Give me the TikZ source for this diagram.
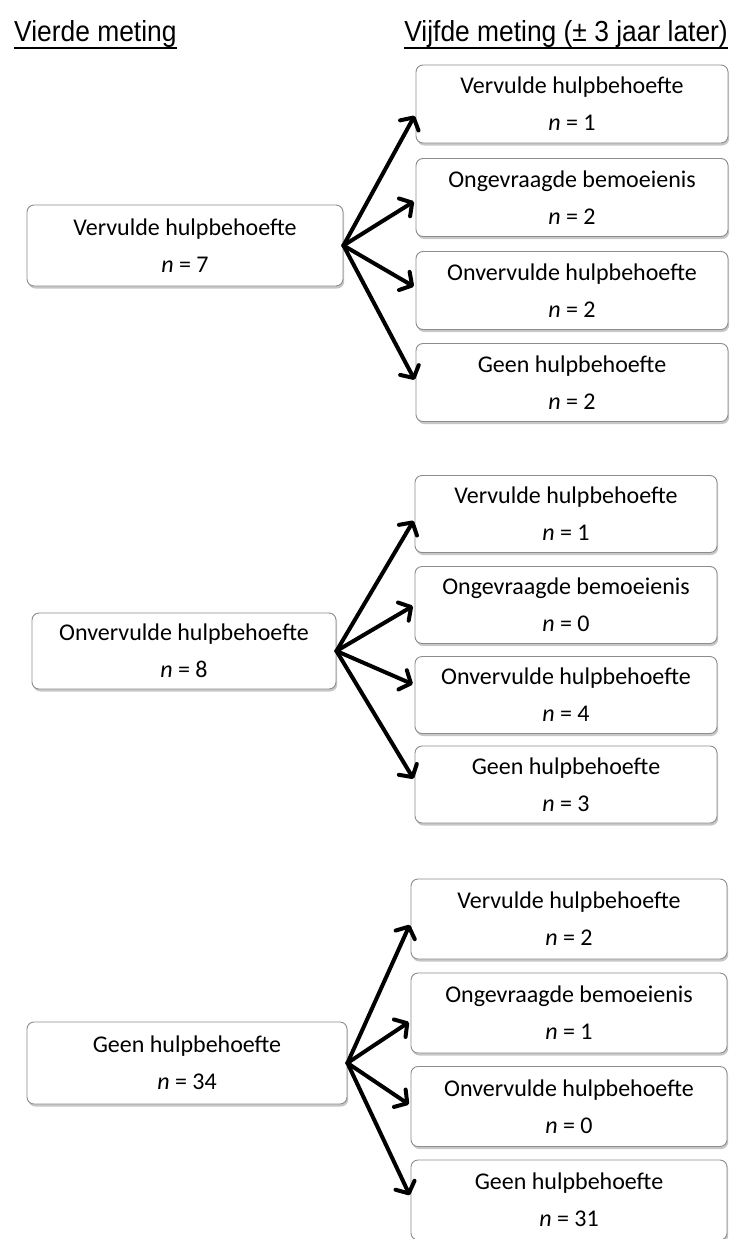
\documentclass[tikz,border=0pt]{standalone}
\usepackage{fontspec}
\setmainfont{Carlito}
\newfontfamily\hdrfont[FakeStretch=0.91]{Liberation Sans}
\usetikzlibrary{arrows.meta,shadows}
\begin{document}
\begin{tikzpicture}[x=1pt,y=-1pt,
  box/.style={draw=black!45, line width=0.9pt, rounded corners=7pt, fill=white,
    align=center, inner sep=0pt, font=\fontsize{24}{37}\selectfont,
    drop shadow={shadow xshift=1.2pt, shadow yshift=-2.5pt, fill=black, opacity=0.22}},
  arr/.style={line width=4pt, line cap=round, line join=round,
    -{Straight Barb[length=9pt,width=21pt,round]}, shorten >=2pt},
  hdr/.style={font=\hdrfont\fontsize{29}{32}\selectfont, inner sep=0pt},
  uline/.style={line width=1.4pt}]
\useasboundingbox (0,0) rectangle (733,1239);

% headers
\node[hdr, anchor=base west] (h1) at (14,42) {Vierde meting};
\node[hdr, anchor=base east] (h2) at (728,42) {Vijfde meting (± 3 jaar later)};
\draw[uline] ([yshift=-6pt]h1.base west) -- ([yshift=-6pt]h1.base east);
\draw[uline] ([yshift=-6pt]h2.base west) -- ([yshift=-6pt]h2.base east);

% group 1
\node[box, minimum width=312pt, minimum height=78pt] (a1) at (572,104) {Vervulde hulpbehoefte\\{\itshape n} = 1};
\node[box, minimum width=312pt, minimum height=78pt] (a2) at (572,197.5) {Ongevraagde bemoeienis\\{\itshape n} = 2};
\node[box, minimum width=312pt, minimum height=78pt] (a3) at (572,290.5) {Onvervulde hulpbehoefte\\{\itshape n} = 2};
\node[box, minimum width=312pt, minimum height=78pt] (a4) at (572,382.5) {Geen hulpbehoefte\\{\itshape n} = 2};
\node[box, minimum width=316pt, minimum height=81pt] (l1) at (185,245.5) {Vervulde hulpbehoefte\\{\itshape n} = 7};
\draw[arr] (l1.east) -- ([yshift=-10pt]a1.west);
\draw[arr] (l1.east) -- ([yshift=-3pt]a2.west);
\draw[arr] (l1.east) -- ([yshift=3pt]a3.west);
\draw[arr] (l1.east) -- ([yshift=1pt]a4.west);

% group 2
\node[box, minimum width=302pt, minimum height=77pt] (b1) at (566,514) {Vervulde hulpbehoefte\\{\itshape n} = 1};
\node[box, minimum width=302pt, minimum height=77pt] (b2) at (566,605) {Ongevraagde bemoeienis\\{\itshape n} = 0};
\node[box, minimum width=302pt, minimum height=77pt] (b3) at (566,695) {Onvervulde hulpbehoefte\\{\itshape n} = 4};
\node[box, minimum width=302pt, minimum height=77pt] (b4) at (566,784.5) {Geen hulpbehoefte\\{\itshape n} = 3};
\node[box, minimum width=304pt, minimum height=76pt] (l2) at (184,651) {Onvervulde hulpbehoefte\\{\itshape n} = 8};
\draw[arr] (l2.east) -- ([yshift=-5pt]b1.west);
\draw[arr] (l2.east) -- ([yshift=0pt]b2.west);
\draw[arr] (l2.east) -- ([yshift=10pt]b3.west);
\draw[arr] (l2.east) -- ([yshift=4pt]b4.west);

% group 3
\node[box, minimum width=316pt, minimum height=80pt] (c1) at (569,919) {Vervulde hulpbehoefte\\{\itshape n} = 2};
\node[box, minimum width=316pt, minimum height=80pt] (c2) at (569,1013) {Ongevraagde bemoeienis\\{\itshape n} = 1};
\node[box, minimum width=316pt, minimum height=80pt] (c3) at (569,1106.5) {Onvervulde hulpbehoefte\\{\itshape n} = 0};
\node[box, minimum width=316pt, minimum height=80pt] (c4) at (569,1200) {Geen hulpbehoefte\\{\itshape n} = 31};
\node[box, minimum width=320pt, minimum height=82pt] (l3) at (187,1063) {Geen hulpbehoefte\\{\itshape n} = 34};
\draw[arr] (l3.east) -- ([yshift=-4pt]c1.west);
\draw[arr] (l3.east) -- ([yshift=-8pt]c2.west);
\draw[arr] (l3.east) -- ([yshift=1pt]c3.west);
\draw[arr] (l3.east) -- ([yshift=3pt]c4.west);
\end{tikzpicture}
\end{document}
